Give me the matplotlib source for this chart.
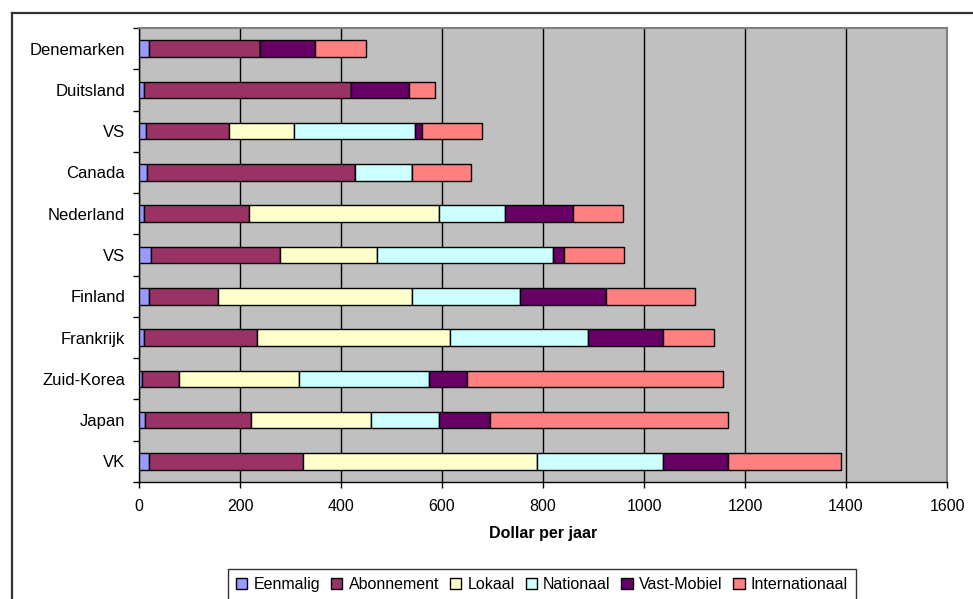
import matplotlib
matplotlib.use("Agg")
import matplotlib.pyplot as plt
import numpy as np
from matplotlib.lines import Line2D

plt.rcParams['font.family'] = ['Liberation Sans', 'DejaVu Sans']

# Countries, listed from top to bottom
countries = ["Denemarken", "Duitsland", "VS", "Canada", "Nederland", "VS",
             "Finland", "Frankrijk", "Zuid-Korea", "Japan", "VK"]

# Annual cost components (dollars per year)
eenmalig       = [19,   9,  13,  16,  10,  23,  19,  10,   6,  12,  19]
abonnement     = [221, 411, 165, 411, 208, 256, 137, 224,  74, 209, 306]
lokaal         = [0,    0, 129,   0, 376, 192, 384, 382, 237, 238, 464]
nationaal      = [0,    0, 239, 114, 130, 348, 215, 274, 258, 135, 248]
vast_mobiel    = [108, 115,  14,   0, 136,  22, 169, 147,  74, 102, 130]
internationaal = [101,  51, 120, 117,  98, 120, 176, 101, 508, 471, 224]

series_names = ["Eenmalig", "Abonnement", "Lokaal", "Nationaal",
                "Vast-Mobiel", "Internationaal"]
series_values = [eenmalig, abonnement, lokaal, nationaal, vast_mobiel, internationaal]
colors = ["#9999FF", "#993366", "#FFFFCC", "#CCFFFF", "#660066", "#FF8080"]

xticks = [0, 200, 400, 600, 800, 1000, 1200, 1400, 1600]

W, H = 973, 599
fig = plt.figure(figsize=(W / 100, H / 100), dpi=100)
fig.patch.set_facecolor("white")

# Outer chart-area border (left and top edges)
fig.add_artist(Line2D([12 / W, 1.0], [1 - 13 / H, 1 - 13 / H], color="#333333", lw=1.6,
                      transform=fig.transFigure))
fig.add_artist(Line2D([12 / W, 12 / W], [1 - 13 / H, 0.0], color="#333333", lw=1.6,
                      transform=fig.transFigure))

ax = fig.add_axes([139 / W, 1 - 482 / H, 808 / W, 454 / H])
ax.set_facecolor("#C0C0C0")

y = np.arange(len(countries))
left = np.zeros(len(countries))
handles = []
for name, vals, col in zip(series_names, series_values, colors):
    vals = np.array(vals, dtype=float)
    b = ax.barh(y, vals, left=left, height=0.4, color=col, edgecolor="black",
                linewidth=1.0, label=name, zorder=3)
    handles.append(b)
    left += vals

ax.set_xlim(0, 1600)
ax.set_ylim(len(countries) - 0.5, -0.5)
ax.set_xticks(xticks)
ax.set_xticklabels([str(t) for t in xticks], fontsize=11.5)
ax.set_yticks(y)
ax.set_yticklabels(countries, fontsize=12)
ax.set_yticks(np.arange(len(countries) + 1) - 0.5, minor=True)
ax.tick_params(axis="y", which="major", length=0, pad=10)
ax.tick_params(axis="y", which="minor", length=4, width=1, direction="out", color="black")
ax.tick_params(axis="x", which="major", length=4, width=1, direction="out", pad=8)

ax.xaxis.grid(True, color="black", linewidth=1.0, zorder=1)
ax.set_axisbelow(True)

for side in ("top", "right"):
    ax.spines[side].set_color("#808080")
    ax.spines[side].set_linewidth(1.5)
for side in ("left", "bottom"):
    ax.spines[side].set_color("black")
    ax.spines[side].set_linewidth(1.0)

ax.set_xlabel("Dollar per jaar", fontsize=11.5, fontweight="bold", labelpad=9)

leg = fig.legend(handles=handles, labels=series_names, loc="upper left",
                 bbox_to_anchor=(228 / W, 0.0, 628 / W, 1 - 569 / H), mode="expand",
                 ncol=6, fontsize=11.5, frameon=True, fancybox=False, edgecolor="black",
                 handlelength=0.7, handleheight=0.7, handletextpad=0.4,
                 columnspacing=0.6, borderpad=0.5, borderaxespad=0)
leg.get_frame().set_linewidth(1.0)

fig.savefig("out.png", dpi=100, facecolor="white")
